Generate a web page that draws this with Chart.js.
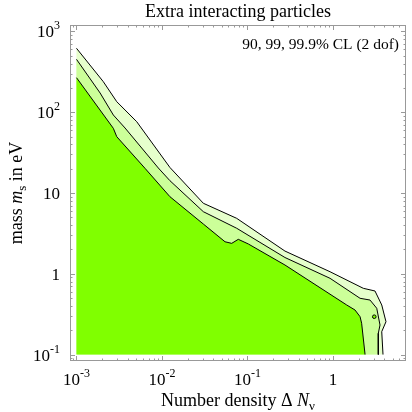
<!DOCTYPE html>
<html>
<head>
<meta charset="utf-8">
<title>Extra interacting particles</title>
<script src="https://cdn.jsdelivr.net/npm/chart.js@4.4.1/dist/chart.umd.min.js"></script>
<style>
  html, body { margin: 0; padding: 0; background: #fff; }
  #wrap { width: 412px; height: 412px; position: relative; }
</style>
</head>
<body>
<div id="wrap"><canvas id="chart"></canvas></div>
<script>
const titleText = 'Extra interacting particles';
const legendText = '90, 99, 99.9% CL (2 dof)';

// axis ranges (log scales, with a little padding around the data box)
const xAxisMin = 8.4e-4, xAxisMax = 7.17;
const yAxisMin = 0.0832, yAxisMax = 1202;
const xBoxMin = 0.001, yBoxMin = 0.1;

// tick labels
const xTickValues = [0.001, 0.01, 0.1, 1];
const xTickLabels = ['10^-3', '10^-2', '10^-1', '1'];
const yTickValues = [0.1, 1, 10, 100, 1000];
const yTickLabels = ['10^-1', '1', '10', '10^2', '10^3'];
const minorSteps = [2, 3, 4, 5, 6, 7, 8, 9];

// 99.9% CL contour
const cl999X = [0.001, 0.00206, 0.00296, 0.00507, 0.0124, 0.0305, 0.0749, 0.275, 0.926, 2.27, 3.11, 3.73, 4.18, 3.73, 3.86];
const cl999Y = [619, 239, 135, 76.3, 20.7, 7.46, 4.86, 1.91, 1.06, 0.661, 0.612, 0.411, 0.255, 0.192, 0.1];
// 99% CL contour
const cl99X = [0.001, 0.00189, 0.0027, 0.0037, 0.00907, 0.0124, 0.0305, 0.0749, 0.275, 0.926, 2.08, 2.72, 3.26, 3.56, 3.40, 3.40];
const cl99Y = [452, 173, 92.4, 63.8, 20.4, 14.2, 5.87, 3.66, 1.59, 0.879, 0.497, 0.473, 0.374, 0.232, 0.183, 0.1];
// 90% CL contour
const cl90X = [0.001, 0.0027, 0.00296, 0.00634, 0.0124, 0.0305, 0.0547, 0.0655, 0.0782, 0.1024, 0.275, 1.45, 1.815, 2.08, 2.17, 2.38];
const cl90Y = [268, 63.2, 49.8, 20.2, 9.0, 4.13, 2.49, 2.38, 2.67, 2.34, 1.284, 0.411, 0.356, 0.294, 0.244, 0.1];
// small 90% island
const islandX = [3.05];
const islandY = [0.294];

const colorOuter = '#e6ffcc';
const colorMiddle = '#ccff99';
const colorInner = '#80ff00';

const serif = '"Liberation Serif", "DejaVu Serif", serif';

function toPoints(xs, ys) {
  return xs.map((x, i) => ({x: x, y: ys[i]}));
}
// closed region: box corner + contour
function toRegion(xs, ys) {
  return [{x: xBoxMin, y: yBoxMin}].concat(toPoints(xs, ys));
}

function fillSet(xs, ys, color, order) {
  return {
    data: toRegion(xs, ys), order: order, fill: 'shape',
    backgroundColor: color, borderColor: 'rgba(0,0,0,0)', borderWidth: 1,
    pointRadius: 0, tension: 0
  };
}
function lineSet(xs, ys, order) {
  return {
    data: toPoints(xs, ys), order: order, fill: false,
    borderColor: '#000', borderWidth: 1, pointRadius: 0, tension: 0
  };
}

function minorValues(min, max) {
  const out = [];
  for (let e = Math.floor(Math.log10(min)); e <= Math.ceil(Math.log10(max)); e++) {
    minorSteps.forEach(m => {
      const v = m * Math.pow(10, e);
      if (v > min && v < max) out.push(v);
    });
  }
  return out;
}

// draws runs of text with different fonts / vertical offsets
function drawRuns(ctx, runs, x, y, align) {
  let total = 0;
  runs.forEach(r => { ctx.font = r.font; r.w = ctx.measureText(r.text).width; total += r.w; });
  let cx = align === 'right' ? x - total : (align === 'center' ? x - total / 2 : x);
  runs.forEach(r => {
    ctx.font = r.font;
    ctx.fillText(r.text, cx, y + (r.dy || 0));
    cx += r.w;
  });
}

function tickRuns(label) {
  const parts = label.split('^');
  const runs = [{text: parts[0], font: '17px ' + serif}];
  if (parts[1]) runs.push({text: parts[1], font: '12px ' + serif, dy: -8});
  return runs;
}

const framePlugin = {
  id: 'frame',
  afterDraw(chart) {
    const {ctx, chartArea: a, scales: {x, y}} = chart;
    ctx.save();
    ctx.strokeStyle = '#999';
    ctx.lineWidth = 1;
    ctx.strokeRect(a.left + 0.5, a.top + 0.5, a.right - a.left - 1, a.bottom - a.top - 1);

    function ticks(scale, values, len, horizontal) {
      values.forEach(v => {
        const p = Math.round(scale.getPixelForValue(v)) + 0.5;
        ctx.beginPath();
        if (horizontal) {
          ctx.moveTo(p, a.bottom); ctx.lineTo(p, a.bottom - len);
          ctx.moveTo(p, a.top); ctx.lineTo(p, a.top + len);
        } else {
          ctx.moveTo(a.left, p); ctx.lineTo(a.left + len, p);
          ctx.moveTo(a.right, p); ctx.lineTo(a.right - len, p);
        }
        ctx.stroke();
      });
    }
    ticks(x, xTickValues, 5, true);
    ticks(x, minorValues(xAxisMin, xAxisMax), 2.5, true);
    ticks(y, yTickValues, 5, false);
    ticks(y, minorValues(yAxisMin, yAxisMax), 2.5, false);

    ctx.fillStyle = '#000';
    ctx.textBaseline = 'alphabetic';
    xTickValues.forEach((v, i) => {
      drawRuns(ctx, tickRuns(xTickLabels[i]), x.getPixelForValue(v), a.bottom + 24, 'center');
    });
    yTickValues.forEach((v, i) => {
      drawRuns(ctx, tickRuns(yTickLabels[i]), a.left - 10, y.getPixelForValue(v) + 6, 'right');
    });

    // title and note
    ctx.font = '18px ' + serif;
    ctx.textAlign = 'left';
    drawRuns(ctx, [{text: titleText, font: '18px ' + serif}], (a.left + a.right) / 2, 17, 'center');
    drawRuns(ctx, [{text: legendText, font: '15.5px ' + serif}], a.right - 7, 48.5, 'right');

    // axis titles
    drawRuns(ctx, [
      {text: 'Number density \u0394 ', font: '18px ' + serif},
      {text: 'N', font: 'italic 18px ' + serif},
      {text: '\u03bd', font: '13px ' + serif, dy: 4}
    ], (a.left + a.right) / 2, 406, 'center');

    ctx.translate(22, (a.top + a.bottom) / 2);
    ctx.rotate(-Math.PI / 2);
    drawRuns(ctx, [
      {text: 'mass ', font: '18px ' + serif},
      {text: 'm', font: 'italic 18px ' + serif},
      {text: 's', font: '13px ' + serif, dy: 4},
      {text: ' in eV', font: '18px ' + serif}
    ], 0, 0, 'center');
    ctx.restore();
  }
};

new Chart(document.getElementById('chart'), {
  type: 'line',
  data: {
    datasets: [
      fillSet(cl999X, cl999Y, colorOuter, 6),
      lineSet(cl999X, cl999Y, 5),
      fillSet(cl99X, cl99Y, colorMiddle, 4),
      lineSet(cl99X, cl99Y, 3),
      fillSet(cl90X, cl90Y, colorInner, 2),
      lineSet(cl90X, cl90Y, 1),
      {
        data: toPoints(islandX, islandY), order: 0, showLine: false,
        pointRadius: 1.8, pointBackgroundColor: colorInner,
        pointBorderColor: '#000', pointBorderWidth: 1
      }
    ]
  },
  options: {
    responsive: true,
    maintainAspectRatio: false,
    animation: false,
    devicePixelRatio: 1,
    layout: { padding: { left: 70, right: 6, top: 25, bottom: 51 } },
    scales: {
      x: { type: 'logarithmic', min: xAxisMin, max: xAxisMax, bounds: 'data', display: false },
      y: { type: 'logarithmic', min: yAxisMin, max: yAxisMax, bounds: 'data', display: false }
    },
    plugins: {
      legend: { display: false },
      tooltip: { enabled: false },
      title: { display: false }
    }
  },
  plugins: [framePlugin]
});
</script>
</body>
</html>
